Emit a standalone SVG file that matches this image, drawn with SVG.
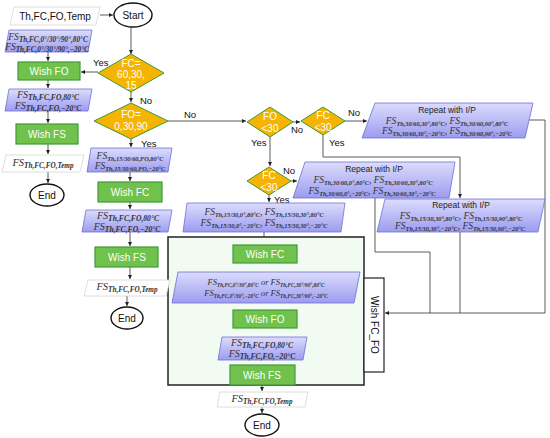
<svg xmlns="http://www.w3.org/2000/svg" width="550" height="438" viewBox="0 0 550 438">
<defs>
<linearGradient id="pg" x1="0" y1="0" x2="0" y2="1">
<stop offset="0" stop-color="#dcdcfd"/>
<stop offset="1" stop-color="#9c9cf0"/>
</linearGradient>
<marker id="ar" viewBox="0 0 6 6" refX="6" refY="3" markerWidth="5" markerHeight="5" orient="auto">
<path d="M0,0 L6,3 L0,6 z" fill="#222"/>
</marker>
<style>
.pb{fill:url(#pg);stroke:#6e6ed6;stroke-width:0.8}
.pw{fill:#fff;stroke:#d6d6d6;stroke-width:0.8}
.gr{fill:#70c24c;stroke:#3f9a3a;stroke-width:1.2}
.dm{fill:#f5b400;stroke:#3f9a3a;stroke-width:1}
.el{fill:#fff;stroke:#111;stroke-width:1.4}
.wt{font-family:"Liberation Sans",Arial,sans-serif;font-size:10px;fill:#fff;text-anchor:middle}
.bt{font-family:"Liberation Sans",Arial,sans-serif;font-size:10px;fill:#111;text-anchor:middle}
.lb{font-family:"Liberation Sans",Arial,sans-serif;font-size:9.5px;fill:#111}
.rp{font-family:"Liberation Sans",Arial,sans-serif;font-size:8.5px;fill:#222;text-anchor:middle}
.fs{font-family:"Liberation Serif","Times New Roman",serif;font-style:italic;font-size:9.5px;fill:#333;text-anchor:middle}
.sb{font-size:6.3px;font-weight:bold}
.fl{font-size:10px}
.fl .sb{font-size:7.6px}
.fm{font-size:10.5px}
.fm .sb{font-size:7.2px}
.f1 .sb{font-size:7.2px}
.fsm{font-size:8.5px}
.fsm .sb{font-size:5.3px}
.cn{fill:none;stroke:#333;stroke-width:0.8}
.ca{fill:none;stroke:#333;stroke-width:0.8;marker-end:url(#ar)}
</style>
</defs>
<g id="connectors">
<path class="ca" d="M100,15 H113"/>
<path class="ca" d="M131,27 V54"/>
<path class="ca" d="M98,72 H81"/>
<path class="ca" d="M48,52 V61"/>
<path class="ca" d="M48,80 V88"/>
<path class="ca" d="M48,111 V123"/>
<path class="ca" d="M48,144 V154"/>
<path class="ca" d="M48,172 V183"/>
<path class="ca" d="M131,92 V102"/>
<path class="ca" d="M131,139 V147"/>
<path class="ca" d="M130,172 V181"/>
<path class="ca" d="M130,202 V209"/>
<path class="ca" d="M130,232 V246"/>
<path class="ca" d="M130,267 V279"/>
<path class="ca" d="M127,296 V306"/>
<path class="ca" d="M168,121 H246"/>
<path class="ca" d="M293,122 H300"/>
<path class="ca" d="M345,121 H367"/>
<path class="ca" d="M323,135 V157 H460 V198"/>
<path class="ca" d="M270,137 V166"/>
<path class="ca" d="M291,181 H297"/>
<path class="ca" d="M269,195 V202"/>
<path class="cn" d="M529,120 H545 V313"/>
<path class="cn" d="M375,198 V252 H430 V313"/>
<path class="cn" d="M460,232 V313"/>
<path class="ca" d="M545,313 H385"/>
<path class="ca" d="M264,232 V244"/>
<path class="ca" d="M264,263 V271"/>
<path class="ca" d="M264,303 V309"/>
<path class="ca" d="M264,328 V336"/>
<path class="ca" d="M264,360 V364"/>
<path class="ca" d="M262,385 V391"/>
<path class="ca" d="M262,407 V413"/>
</g>
<g id="labels">
<text class="lb" x="93" y="66">Yes</text>
<text class="lb" x="140" y="104">No</text>
<text class="lb" x="141" y="147">Yes</text>
<text class="lb" x="184" y="118">No</text>
<text class="lb" x="291" y="133">No</text>
<text class="lb" x="348" y="116">No</text>
<text class="lb" x="329" y="146">Yes</text>
<text class="lb" x="251" y="146">Yes</text>
<text class="lb" x="283" y="174">No</text>
<text class="lb" x="274" y="203">Yes</text>
</g>
<g id="bigbox">
<rect x="168" y="237" width="196" height="148" fill="#f2fbf1" stroke="#222" stroke-width="1.5"/>
</g>
<g id="input">
<polygon class="pw" points="14,7 100,7 96,25 10,25"/>
<text class="bt" x="55" y="20">Th,FC,FO,Temp</text>
</g>
<g id="start">
<ellipse class="el" cx="133" cy="15" rx="19" ry="12"/>
<text class="bt" x="133" y="19">Start</text>
</g>
<g id="d-fc1">
<polygon class="dm" points="131,54 164,73 131,92 98,73"/>
<text class="wt" x="131" y="67">FC=</text>
<text class="wt" x="131" y="78">60,30,</text>
<text class="wt" x="131" y="89">15</text>
</g>
<g id="p1">
<polygon class="pb" points="9,30 92,30 88,52 5,52"/>
<text class="fs f1" x="48" y="40">FS<tspan class="sb" dy="2">Th,FC,0°/30°/90°,80°C</tspan></text>
<text class="fs f1" x="47" y="50">FS<tspan class="sb" dy="2">Th,FC,0°/30°/90°,−20°C</tspan></text>
</g>
<g id="wish-fo1">
<rect class="gr" x="18" y="62" width="62" height="18"/>
<text class="wt" x="49" y="75">Wish FO</text>
</g>
<g id="p2">
<polygon class="pb" points="9,89 92,89 88,111 5,111"/>
<text class="fs fl" x="48" y="98">FS<tspan class="sb" dy="2">Th,FC,FO,80°C</tspan></text>
<text class="fs fl" x="48" y="109">FS<tspan class="sb" dy="2">Th,FC,FO,−20°C</tspan></text>
</g>
<g id="wish-fs1">
<rect class="gr" x="16" y="124" width="62" height="20"/>
<text class="wt" x="47" y="138">Wish FS</text>
</g>
<g id="out1">
<polygon class="pw" points="6,155 84,155 80,172 2,172"/>
<text class="fs fm" x="43" y="166">FS<tspan class="sb" dy="2">Th,FC,FO,Temp</tspan></text>
</g>
<g id="end1">
<ellipse class="el" cx="47" cy="195" rx="17" ry="11"/>
<text class="bt" x="47" y="199">End</text>
</g>
<g id="d-fo1">
<polygon class="dm" points="131,103 168,121 131,139 94,121"/>
<text class="wt" x="131" y="118">FO=</text>
<text class="wt" x="131" y="130">0,30,90</text>
</g>
<g id="p3">
<polygon class="pb" points="91,148 172,148 168,172 87,172"/>
<text class="fs" x="130" y="159">FS<tspan class="sb" dy="1.8">Th,15/30/60,FO,80°C</tspan></text>
<text class="fs" x="130" y="169">FS<tspan class="sb" dy="1.8">Th,15/30/60,FO,−20°C</tspan></text>
</g>
<g id="wish-fc2">
<rect class="gr" x="98" y="182" width="64" height="20"/>
<text class="wt" x="130" y="196">Wish FC</text>
</g>
<g id="p4">
<polygon class="pb" points="86,210 172,210 168,232 82,232"/>
<text class="fs fl" x="128" y="219">FS<tspan class="sb" dy="2">Th,FC,FO,80°C</tspan></text>
<text class="fs fl" x="127" y="230">FS<tspan class="sb" dy="2">Th,FC,FO,−20°C</tspan></text>
</g>
<g id="wish-fs2">
<rect class="gr" x="95" y="247" width="63" height="20"/>
<text class="wt" x="127" y="261">Wish FS</text>
</g>
<g id="out2">
<polygon class="pw" points="88,280 170,280 166,296 84,296"/>
<text class="fs fm" x="127" y="290">FS<tspan class="sb" dy="2">Th,FC,FO,Temp</tspan></text>
</g>
<g id="end2">
<ellipse class="el" cx="127" cy="318" rx="16" ry="11"/>
<text class="bt" x="127" y="322">End</text>
</g>
<g id="d-fo2">
<polygon class="dm" points="270,107 293,122 270,137 247,122"/>
<text class="wt" x="270" y="120">FO</text>
<text class="wt" x="270" y="132">&lt;30</text>
</g>
<g id="d-fc3">
<polygon class="dm" points="323,107 345,121 323,135 301,121"/>
<text class="wt" x="323" y="119">FC</text>
<text class="wt" x="323" y="131">&lt;30</text>
</g>
<g id="d-fc4">
<polygon class="dm" points="269,167 291,181 269,195 247,181"/>
<text class="wt" x="269" y="179">FC</text>
<text class="wt" x="269" y="191">&lt;30</text>
</g>
<g id="repeat1">
<polygon class="pb" points="375,103 533,103 525,138 362,138"/>
<text class="rp" x="447" y="113">Repeat with I/P</text>
<text class="fs" x="447" y="124">FS<tspan class="sb" dy="1.8">Th,30/60,30°,80°C</tspan><tspan dy="-1.8">, FS</tspan><tspan class="sb" dy="1.8">Th,30/60,90°,80°C</tspan></text>
<text class="fs" x="447" y="134">FS<tspan class="sb" dy="1.8">Th,30/60,30°,−20°C</tspan><tspan dy="-1.8">, FS</tspan><tspan class="sb" dy="1.8">Th,30/60,90°,−20°C</tspan></text>
</g>
<g id="repeat2">
<polygon class="pb" points="305,162 455,162 449,198 293,198"/>
<text class="rp" x="374" y="172">Repeat with I/P</text>
<text class="fs" x="373" y="183">FS<tspan class="sb" dy="1.8">Th,30/60,0°,80°C</tspan><tspan dy="-1.8">, FS</tspan><tspan class="sb" dy="1.8">Th,30/60,30°,80°C</tspan></text>
<text class="fs" x="372" y="194">FS<tspan class="sb" dy="1.8">Th,30/60,0°,−20°C</tspan><tspan dy="-1.8">, FS</tspan><tspan class="sb" dy="1.8">Th,30/60,30°,−20°C</tspan></text>
</g>
<g id="repeat3">
<polygon class="pb" points="385,199 545,199 538,232 377,232"/>
<text class="rp" x="461" y="208">Repeat with I/P</text>
<text class="fs" x="461" y="219">FS<tspan class="sb" dy="1.8">Th,15/30,30°,80°C</tspan><tspan dy="-1.8">, FS</tspan><tspan class="sb" dy="1.8">Th,15/30,90°,80°C</tspan></text>
<text class="fs" x="460" y="229">FS<tspan class="sb" dy="1.8">Th,15/30,30°,−20°C</tspan><tspan dy="-1.8">, FS</tspan><tspan class="sb" dy="1.8">Th,15/30,90°,−20°C</tspan></text>
</g>
<g id="p5">
<polygon class="pb" points="187,203 345,203 341,232 183,232"/>
<text class="fs" x="264" y="215">FS<tspan class="sb" dy="1.8">Th,15/30,0°,80°C</tspan><tspan dy="-1.8">, FS</tspan><tspan class="sb" dy="1.8">Th,15/30,30°,80°C</tspan></text>
<text class="fs" x="264" y="226">FS<tspan class="sb" dy="1.8">Th,15/30,0°,−20°C</tspan><tspan dy="-1.8">, FS</tspan><tspan class="sb" dy="1.8">Th,15/30,30°,−20°C</tspan></text>
</g>
<g id="wish-fc-fo">
<rect x="364" y="278" width="20" height="94" fill="#fff" stroke="#222" stroke-width="1.2"/>
<text class="bt" x="0" y="0" transform="translate(370.5,325) rotate(90)">Wish FC_FO</text>
</g>
<g id="wish-fc3">
<rect class="gr" x="233" y="245" width="64" height="18"/>
<text class="wt" x="265" y="258">Wish FC</text>
</g>
<g id="p6">
<polygon class="pb" points="178,272 360,272 354,303 172,303"/>
<text class="fs fsm" x="266" y="285">FS<tspan class="sb" dy="1.6">Th,FC,0°/30°,80°C</tspan><tspan dy="-1.6"> or FS</tspan><tspan class="sb" dy="1.6">Th,FC,30°/90°,80°C</tspan></text>
<text class="fs fsm" x="266" y="296">FS<tspan class="sb" dy="1.6">Th,FC,0°/30°,−20°C</tspan><tspan dy="-1.6"> or FS</tspan><tspan class="sb" dy="1.6">Th,FC,30°/90°,−20°C</tspan></text>
</g>
<g id="wish-fo3">
<rect class="gr" x="233" y="310" width="64" height="18"/>
<text class="wt" x="265" y="323">Wish FO</text>
</g>
<g id="p7">
<polygon class="pb" points="222,337 307,337 303,360 218,360"/>
<text class="fs fl" x="262" y="346">FS<tspan class="sb" dy="2">Th,FC,FO,80°C</tspan></text>
<text class="fs fl" x="262" y="357">FS<tspan class="sb" dy="2">Th,FC,FO,−20°C</tspan></text>
</g>
<g id="wish-fs3">
<rect class="gr" x="230" y="365" width="65" height="20"/>
<text class="wt" x="262" y="379">Wish FS</text>
</g>
<g id="out3">
<polygon class="pw" points="220,392 308,392 305,407 217,407"/>
<text class="fs fm" x="262" y="402">FS<tspan class="sb" dy="2">Th,FC,FO,Temp</tspan></text>
</g>
<g id="end3">
<ellipse class="el" cx="262" cy="425" rx="17" ry="11"/>
<text class="bt" x="262" y="429">End</text>
</g>
</svg>
